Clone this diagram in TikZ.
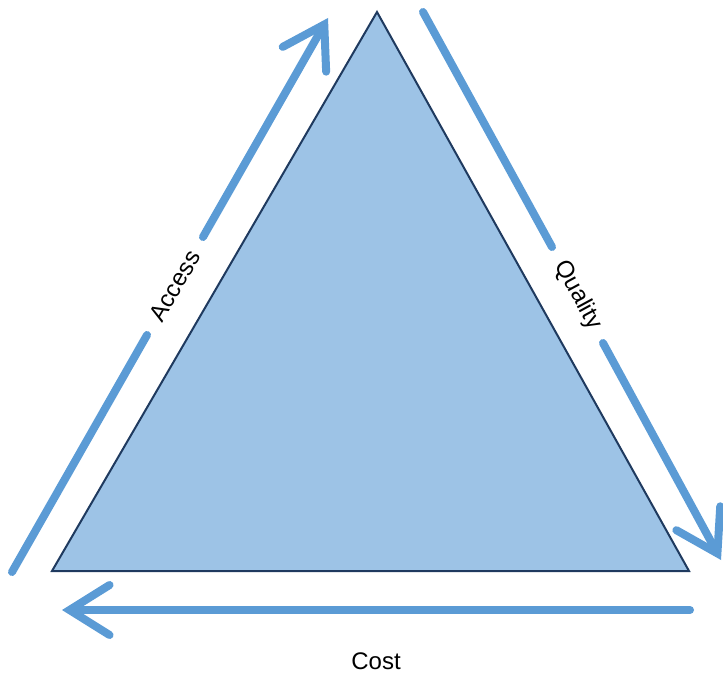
\documentclass[tikz,border=0pt]{standalone}
\usepackage{fontspec}
\setmainfont{Liberation Sans}
\usetikzlibrary{arrows.meta}
\definecolor{trifill}{HTML}{9DC3E6}
\definecolor{triedge}{HTML}{1F3A5F}
\definecolor{arrblue}{HTML}{5B9BD5}
\tikzset{
  tri/.style={fill=trifill,draw=triedge,line width=2pt,line join=miter},
  arrline/.style={draw=arrblue,line width=8pt,line cap=round},
  arrtip/.style={arrline,-{Straight Barb[length=40pt,width=50pt,line cap=round]}},
  lbl/.style={font=\fontsize{24}{28}\selectfont,text=black,inner sep=0pt}
}
\begin{document}
\begin{tikzpicture}[x=1pt,y=-1pt]
\useasboundingbox (0,0) rectangle (723,674);
% triangle
\coordinate (T) at (377,12);
\coordinate (BL) at (52,571);
\coordinate (BR) at (689,571);
\path[tri] (T) -- (BR) -- (BL) -- cycle;
% left arrow (Access)
\coordinate (a0) at (12,572);
\coordinate (a1) at (147,335);
\coordinate (a2) at (203,237);
\coordinate (a3) at (328,18);
\draw[arrline] (a0) -- (a1);
\draw[arrtip] (a2) -- (a3);
\node[lbl,rotate=60.3] (access) at (175,286) {Access};
% right arrow (Quality)
\coordinate (q0) at (423,12);
\coordinate (q1) at (552,247);
\coordinate (q2) at (603,343);
\coordinate (q3) at (721,560);
\draw[arrline] (q0) -- (q1);
\draw[arrtip] (q2) -- (q3);
\node[lbl,rotate=-61.5] (quality) at (578,295) {Quality};
% bottom arrow (Cost)
\coordinate (c0) at (690,610);
\coordinate (c1) at (62,610);
\draw[arrtip] (c0) -- (c1);
\node[lbl] (cost) at (376,661) {Cost};
\end{tikzpicture}
\end{document}
